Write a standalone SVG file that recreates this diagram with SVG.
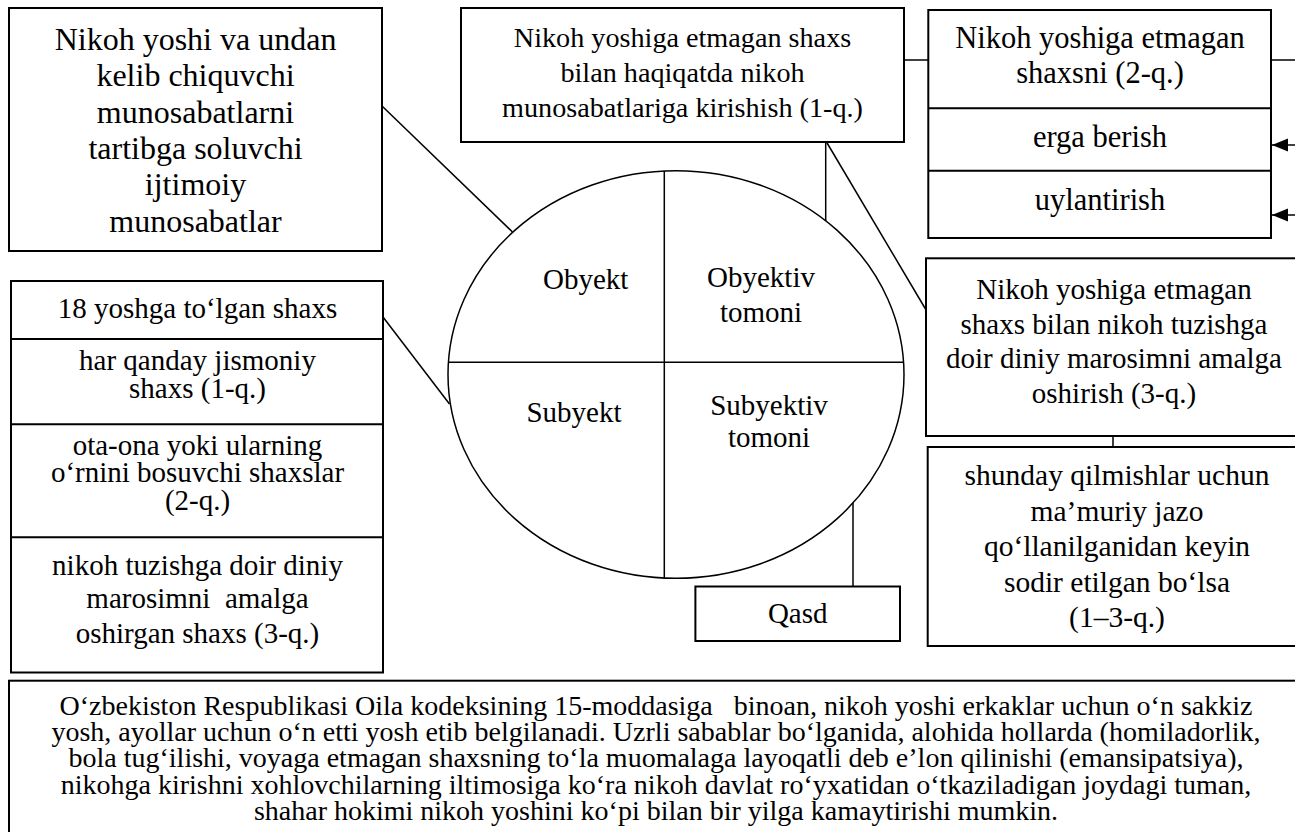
<svg xmlns="http://www.w3.org/2000/svg" width="1295" height="832" viewBox="0 0 1295 832" font-family="'Liberation Serif', serif">
<style>
text{font-family:'Liberation Serif',serif;fill:#000;text-anchor:middle;white-space:pre}
.box{fill:#fff;stroke:#000;stroke-width:2}
.div{stroke:#000;stroke-width:2;fill:none}
.con{stroke:#000;stroke-width:1.5;fill:none}
</style>
<defs>
<marker id="ah" markerUnits="userSpaceOnUse" markerWidth="18" markerHeight="14" viewBox="0 -7 18 14" refX="16" refY="0" orient="auto">
<path d="M0,-6.5 L16,0 L0,6.5 z" fill="#000"/>
</marker>
</defs>
<rect width="1295" height="832" fill="#fff"/>

<g id="connectors">
<line class="con" x1="382" y1="106" x2="512.5" y2="232"/>
<line class="con" x1="383" y1="317" x2="449.5" y2="404"/>
<line class="con" x1="904" y1="60" x2="928" y2="60"/>
<line class="con" x1="1271" y1="60" x2="1296" y2="60"/>
<line class="con" x1="1296" y1="145" x2="1272" y2="145" marker-end="url(#ah)"/>
<line class="con" x1="1296" y1="215" x2="1272" y2="215" marker-end="url(#ah)"/>
<line class="con" x1="825.7" y1="142" x2="825.7" y2="221"/>
<line class="con" x1="826.5" y1="142" x2="925.5" y2="309"/>
<line class="con" x1="853" y1="503" x2="853" y2="586.5"/>
<line class="con" x1="1113" y1="436" x2="1113" y2="447"/>
</g>

<g id="object-box">
<rect class="box" x="9" y="8" width="373" height="243"/>
<g font-size="32">
<text x="195.5" y="49.5">Nikoh yoshi va undan</text>
<text x="195.5" y="86">kelib chiquvchi</text>
<text x="195.5" y="122.5">munosabatlarni</text>
<text x="195.5" y="159">tartibga soluvchi</text>
<text x="195.5" y="195">ijtimoiy</text>
<text x="195.5" y="231.5">munosabatlar</text>
</g>
</g>

<g id="objective-1">
<rect class="box" x="461" y="8" width="443" height="134"/>
<g font-size="28.2">
<text x="682.5" y="46.7">Nikoh yoshiga etmagan shaxs</text>
<text x="682.5" y="81.7">bilan haqiqatda nikoh</text>
<text x="682.5" y="116.7">munosabatlariga kirishish (1-q.)</text>
</g>
</g>

<g id="objective-2">
<rect class="box" x="928.3" y="10" width="342.7" height="228"/>
<line class="div" x1="928.3" y1="108.3" x2="1271" y2="108.3"/>
<line class="div" x1="928.3" y1="170.7" x2="1271" y2="170.7"/>
<g font-size="30.5">
<text x="1100" y="48">Nikoh yoshiga etmagan</text>
<text x="1100" y="83">shaxsni (2-q.)</text>
<text x="1100" y="146.7">erga berish</text>
<text x="1100" y="210">uylantirish</text>
</g>
</g>

<g id="subject-box">
<rect class="box" x="11" y="281" width="372" height="391.5"/>
<line class="div" x1="11" y1="339" x2="383" y2="339"/>
<line class="div" x1="11" y1="424.3" x2="383" y2="424.3"/>
<line class="div" x1="11" y1="537.3" x2="383" y2="537.3"/>
<g font-size="29">
<text x="197.5" y="318.3">18 yoshga to‘lgan shaxs</text>
<text x="197.5" y="370">har qanday jismoniy</text>
<text x="197.5" y="398.3">shaxs (1-q.)</text>
<text x="197.5" y="454.5">ota-ona yoki ularning</text>
<text x="197.5" y="481.7">o‘rnini bosuvchi shaxslar</text>
<text x="197.5" y="509.5">(2-q.)</text>
<text x="197.5" y="575">nikoh tuzishga doir diniy</text>
<text x="197.5" y="608.3">marosimni  amalga</text>
<text x="197.5" y="643.3">oshirgan shaxs (3-q.)</text>
</g>
</g>

<g id="center-ellipse">
<ellipse cx="676" cy="374.5" rx="228" ry="203.8" fill="#fff" stroke="#000" stroke-width="1.5"/>
<line class="con" x1="664.3" y1="171" x2="664.3" y2="578"/>
<line class="con" x1="448.4" y1="362.3" x2="903.6" y2="362.3"/>
<g font-size="29">
<text x="585.7" y="289.3">Obyekt</text>
<text x="761" y="286.7">Obyektiv</text>
<text x="761" y="321.7">tomoni</text>
<text x="574" y="421.7">Subyekt</text>
<text x="769" y="415">Subyektiv</text>
<text x="769" y="447.3">tomoni</text>
</g>
</g>

<g id="objective-3">
<rect class="box" x="926" y="258.3" width="380" height="177.7"/>
<g font-size="29">
<text x="1114" y="299.3">Nikoh yoshiga etmagan</text>
<text x="1114" y="333.5">shaxs bilan nikoh tuzishga</text>
<text x="1114" y="368">doir diniy marosimni amalga</text>
<text x="1114" y="402.5">oshirish (3-q.)</text>
</g>
</g>

<g id="aggravating">
<rect class="box" x="927.7" y="447" width="380" height="199"/>
<g font-size="29.5">
<text x="1117" y="485">shunday qilmishlar uchun</text>
<text x="1117" y="520.5">ma’muriy jazo</text>
<text x="1117" y="556">qo‘llanilganidan keyin</text>
<text x="1117" y="591.5">sodir etilgan bo‘lsa</text>
<text x="1117" y="627">(1–3-q.)</text>
</g>
</g>

<g id="qasd">
<rect class="box" x="695.4" y="586.5" width="204.6" height="54.5"/>
<text x="797.7" y="623.3" font-size="29">Qasd</text>
</g>

<g id="note">
<rect class="box" x="9" y="680.7" width="1300" height="170"/>
<g font-size="28">
<text x="656" y="715">O‘zbekiston Respublikasi Oila kodeksining 15-moddasiga   binoan, nikoh yoshi erkaklar uchun o‘n sakkiz</text>
<text x="656" y="741.2">yosh, ayollar uchun o‘n etti yosh etib belgilanadi. Uzrli sabablar bo‘lganida, alohida hollarda (homiladorlik,</text>
<text x="656" y="767.4">bola tug‘ilishi, voyaga etmagan shaxsning to‘la muomalaga layoqatli deb e’lon qilinishi (emansipatsiya),</text>
<text x="656" y="793.6">nikohga kirishni xohlovchilarning iltimosiga ko‘ra nikoh davlat ro‘yxatidan o‘tkaziladigan joydagi tuman,</text>
<text x="656" y="819.8">shahar hokimi nikoh yoshini ko‘pi bilan bir yilga kamaytirishi mumkin.</text>
</g>
</g>
</svg>
